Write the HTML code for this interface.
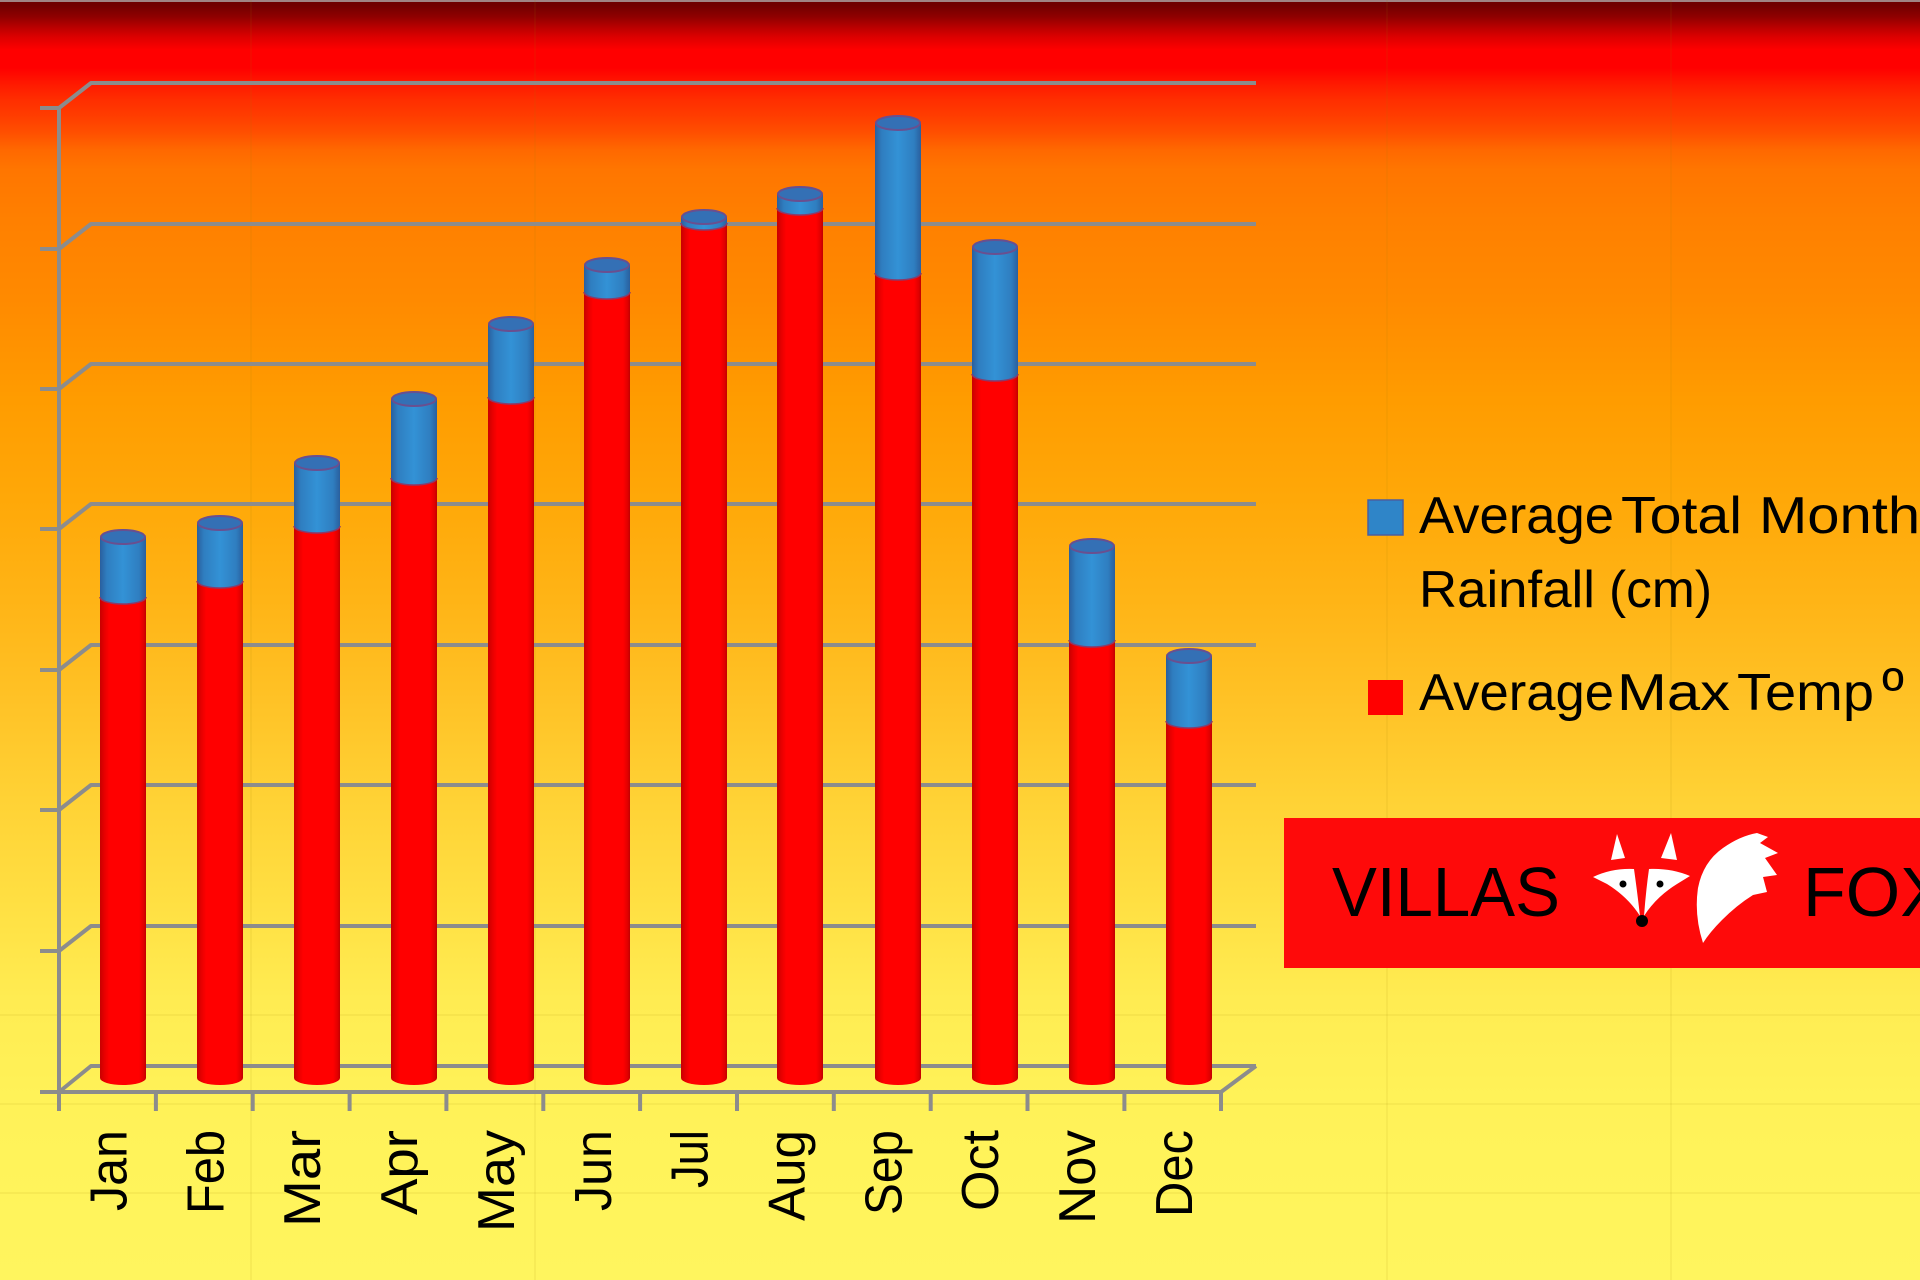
<!DOCTYPE html>
<html>
<head>
<meta charset="utf-8">
<style>
  html, body { margin: 0; padding: 0; width: 1920px; height: 1280px; overflow: hidden; }
  svg { display: block; }
  text { font-family: "Liberation Sans", Arial, sans-serif; }
</style>
</head>
<body>
<svg width="1920" height="1280" viewBox="0 0 1920 1280" xmlns="http://www.w3.org/2000/svg">
  <defs>
    <linearGradient id="bg" x1="0" y1="0" x2="0" y2="1">
      <stop offset="0" stop-color="#6e0000"/>
      <stop offset="0.004" stop-color="#700000"/>
      <stop offset="0.0133" stop-color="#900000"/>
      <stop offset="0.021" stop-color="#b80000"/>
      <stop offset="0.029" stop-color="#dd0000"/>
      <stop offset="0.039" stop-color="#ff0000"/>
      <stop offset="0.053" stop-color="#ff0000"/>
      <stop offset="0.066" stop-color="#ff1a00"/>
      <stop offset="0.078" stop-color="#ff2e00"/>
      <stop offset="0.09" stop-color="#ff3c00"/>
      <stop offset="0.104" stop-color="#ff5000"/>
      <stop offset="0.117" stop-color="#ff6800"/>
      <stop offset="0.133" stop-color="#ff7600"/>
      <stop offset="0.172" stop-color="#ff8000"/>
      <stop offset="0.234" stop-color="#ff8a00"/>
      <stop offset="0.3125" stop-color="#ff9c00"/>
      <stop offset="0.39" stop-color="#ffa808"/>
      <stop offset="0.469" stop-color="#ffb416"/>
      <stop offset="0.547" stop-color="#ffc226"/>
      <stop offset="0.625" stop-color="#ffd235"/>
      <stop offset="0.703" stop-color="#ffdf42"/>
      <stop offset="0.781" stop-color="#ffec52"/>
      <stop offset="0.859" stop-color="#fff258"/>
      <stop offset="1" stop-color="#fff55e"/>
    </linearGradient>
    <linearGradient id="gr" x1="0" y1="0" x2="1" y2="0">
      <stop offset="0" stop-color="#c80000"/>
      <stop offset="0.1" stop-color="#e80000"/>
      <stop offset="0.2" stop-color="#ff0000"/>
      <stop offset="0.85" stop-color="#ff0000"/>
      <stop offset="0.95" stop-color="#e00000"/>
      <stop offset="1" stop-color="#c00000"/>
    </linearGradient>
    <linearGradient id="gb" x1="0" y1="0" x2="1" y2="0">
      <stop offset="0" stop-color="#2a5f9e"/>
      <stop offset="0.15" stop-color="#2f7ec0"/>
      <stop offset="0.5" stop-color="#3392d6"/>
      <stop offset="0.85" stop-color="#2f7ec0"/>
      <stop offset="1" stop-color="#2a5f9e"/>
    </linearGradient>
  </defs>

  <!-- background -->
  <rect x="0" y="0" width="1920" height="1280" fill="url(#bg)"/>
  <rect x="0" y="0" width="1920" height="2" fill="#a08585"/>

  <!-- faint cell grid -->
  <g stroke="#9a7a00" stroke-opacity="0.08" stroke-width="2">
    <line x1="251" y1="0" x2="251" y2="1280"/>
    <line x1="535" y1="0" x2="535" y2="1280"/>
    <line x1="1387" y1="0" x2="1387" y2="1280"/>
    <line x1="1671" y1="0" x2="1671" y2="1280"/>
    <line x1="0" y1="1015" x2="1920" y2="1015"/>
    <line x1="0" y1="1104" x2="1920" y2="1104"/>
    <line x1="0" y1="1193" x2="1920" y2="1193"/>
  </g>

  <!-- axes & gridlines -->
  <g stroke="#8c8c8c" stroke-width="4" fill="none" stroke-linejoin="round">
    <polyline points="40,108 59,108 91,83 1256,83"/>
    <polyline points="40,249 59,249 91,224 1256,224"/>
    <polyline points="40,389 59,389 91,364 1256,364"/>
    <polyline points="40,529 59,529 91,504 1256,504"/>
    <polyline points="40,670 59,670 91,645 1256,645"/>
    <polyline points="40,810 59,810 91,785 1256,785"/>
    <polyline points="40,951 59,951 91,926 1256,926"/>
    <polyline points="40,1092 59,1092 91,1066 1256,1066"/>
    <line x1="59" y1="106" x2="59" y2="1094"/>
    <polyline points="59,1092 1221,1092 1256,1066"/>
    <line x1="59" y1="1092" x2="59" y2="1111"/>
    <line x1="155.9" y1="1092" x2="155.9" y2="1111"/>
    <line x1="252.7" y1="1092" x2="252.7" y2="1111"/>
    <line x1="349.6" y1="1092" x2="349.6" y2="1111"/>
    <line x1="446.4" y1="1092" x2="446.4" y2="1111"/>
    <line x1="543.3" y1="1092" x2="543.3" y2="1111"/>
    <line x1="640.1" y1="1092" x2="640.1" y2="1111"/>
    <line x1="737" y1="1092" x2="737" y2="1111"/>
    <line x1="833.8" y1="1092" x2="833.8" y2="1111"/>
    <line x1="930.7" y1="1092" x2="930.7" y2="1111"/>
    <line x1="1027.5" y1="1092" x2="1027.5" y2="1111"/>
    <line x1="1124.4" y1="1092" x2="1124.4" y2="1111"/>
    <line x1="1221" y1="1092" x2="1221" y2="1111"/>
  </g>

  <!-- bars -->
  <g>
    <!-- Jan -->
    <rect x="100" y="597" width="46" height="481" fill="url(#gr)"/><ellipse cx="123" cy="1078" rx="23" ry="7" fill="url(#gr)"/>
    <rect x="100" y="537" width="46" height="60" fill="url(#gb)"/>
    <path d="M100,597 A23,7 0 0 0 146,597 Z" fill="url(#gb)"/>
    <path d="M100,597 A23,7 0 0 0 146,597" fill="none" stroke="#8a3a6a" stroke-width="1.5"/>
    <ellipse cx="123" cy="537" rx="22" ry="7" fill="#3470b5" stroke="#6a4f8f" stroke-width="2"/>
    <!-- Feb -->
    <rect x="197" y="581" width="46" height="497" fill="url(#gr)"/><ellipse cx="220" cy="1078" rx="23" ry="7" fill="url(#gr)"/>
    <rect x="197" y="523" width="46" height="58" fill="url(#gb)"/>
    <path d="M197,581 A23,7 0 0 0 243,581 Z" fill="url(#gb)"/>
    <path d="M197,581 A23,7 0 0 0 243,581" fill="none" stroke="#8a3a6a" stroke-width="1.5"/>
    <ellipse cx="220" cy="523" rx="22" ry="7" fill="#3470b5" stroke="#6a4f8f" stroke-width="2"/>
    <!-- Mar -->
    <rect x="294" y="526" width="46" height="552" fill="url(#gr)"/><ellipse cx="317" cy="1078" rx="23" ry="7" fill="url(#gr)"/>
    <rect x="294" y="463" width="46" height="63" fill="url(#gb)"/>
    <path d="M294,526 A23,7 0 0 0 340,526 Z" fill="url(#gb)"/>
    <path d="M294,526 A23,7 0 0 0 340,526" fill="none" stroke="#8a3a6a" stroke-width="1.5"/>
    <ellipse cx="317" cy="463" rx="22" ry="7" fill="#3470b5" stroke="#6a4f8f" stroke-width="2"/>
    <!-- Apr -->
    <rect x="391" y="478" width="46" height="600" fill="url(#gr)"/><ellipse cx="414" cy="1078" rx="23" ry="7" fill="url(#gr)"/>
    <rect x="391" y="399" width="46" height="79" fill="url(#gb)"/>
    <path d="M391,478 A23,7 0 0 0 437,478 Z" fill="url(#gb)"/>
    <path d="M391,478 A23,7 0 0 0 437,478" fill="none" stroke="#8a3a6a" stroke-width="1.5"/>
    <ellipse cx="414" cy="399" rx="22" ry="7" fill="#3470b5" stroke="#6a4f8f" stroke-width="2"/>
    <!-- May -->
    <rect x="488" y="397" width="46" height="681" fill="url(#gr)"/><ellipse cx="511" cy="1078" rx="23" ry="7" fill="url(#gr)"/>
    <rect x="488" y="324" width="46" height="73" fill="url(#gb)"/>
    <path d="M488,397 A23,7 0 0 0 534,397 Z" fill="url(#gb)"/>
    <path d="M488,397 A23,7 0 0 0 534,397" fill="none" stroke="#8a3a6a" stroke-width="1.5"/>
    <ellipse cx="511" cy="324" rx="22" ry="7" fill="#3470b5" stroke="#6a4f8f" stroke-width="2"/>
    <!-- Jun -->
    <rect x="584" y="292" width="46" height="786" fill="url(#gr)"/><ellipse cx="607" cy="1078" rx="23" ry="7" fill="url(#gr)"/>
    <rect x="584" y="265" width="46" height="27" fill="url(#gb)"/>
    <path d="M584,292 A23,7 0 0 0 630,292 Z" fill="url(#gb)"/>
    <path d="M584,292 A23,7 0 0 0 630,292" fill="none" stroke="#8a3a6a" stroke-width="1.5"/>
    <ellipse cx="607" cy="265" rx="22" ry="7" fill="#3470b5" stroke="#6a4f8f" stroke-width="2"/>
    <!-- Jul -->
    <rect x="681" y="223" width="46" height="855" fill="url(#gr)"/><ellipse cx="704" cy="1078" rx="23" ry="7" fill="url(#gr)"/>
    <rect x="681" y="217" width="46" height="6" fill="url(#gb)"/>
    <path d="M681,223 A23,7 0 0 0 727,223 Z" fill="url(#gb)"/>
    <path d="M681,223 A23,7 0 0 0 727,223" fill="none" stroke="#8a3a6a" stroke-width="1.5"/>
    <ellipse cx="704" cy="217" rx="22" ry="7" fill="#3470b5" stroke="#6a4f8f" stroke-width="2"/>
    <!-- Aug -->
    <rect x="777" y="208" width="46" height="870" fill="url(#gr)"/><ellipse cx="800" cy="1078" rx="23" ry="7" fill="url(#gr)"/>
    <rect x="777" y="194" width="46" height="14" fill="url(#gb)"/>
    <path d="M777,208 A23,7 0 0 0 823,208 Z" fill="url(#gb)"/>
    <path d="M777,208 A23,7 0 0 0 823,208" fill="none" stroke="#8a3a6a" stroke-width="1.5"/>
    <ellipse cx="800" cy="194" rx="22" ry="7" fill="#3470b5" stroke="#6a4f8f" stroke-width="2"/>
    <!-- Sep -->
    <rect x="875" y="273" width="46" height="805" fill="url(#gr)"/><ellipse cx="898" cy="1078" rx="23" ry="7" fill="url(#gr)"/>
    <rect x="875" y="123" width="46" height="150" fill="url(#gb)"/>
    <path d="M875,273 A23,7 0 0 0 921,273 Z" fill="url(#gb)"/>
    <path d="M875,273 A23,7 0 0 0 921,273" fill="none" stroke="#8a3a6a" stroke-width="1.5"/>
    <ellipse cx="898" cy="123" rx="22" ry="7" fill="#3470b5" stroke="#6a4f8f" stroke-width="2"/>
    <!-- Oct -->
    <rect x="972" y="374" width="46" height="704" fill="url(#gr)"/><ellipse cx="995" cy="1078" rx="23" ry="7" fill="url(#gr)"/>
    <rect x="972" y="247" width="46" height="127" fill="url(#gb)"/>
    <path d="M972,374 A23,7 0 0 0 1018,374 Z" fill="url(#gb)"/>
    <path d="M972,374 A23,7 0 0 0 1018,374" fill="none" stroke="#8a3a6a" stroke-width="1.5"/>
    <ellipse cx="995" cy="247" rx="22" ry="7" fill="#3470b5" stroke="#6a4f8f" stroke-width="2"/>
    <!-- Nov -->
    <rect x="1069" y="640" width="46" height="438" fill="url(#gr)"/><ellipse cx="1092" cy="1078" rx="23" ry="7" fill="url(#gr)"/>
    <rect x="1069" y="546" width="46" height="94" fill="url(#gb)"/>
    <path d="M1069,640 A23,7 0 0 0 1115,640 Z" fill="url(#gb)"/>
    <path d="M1069,640 A23,7 0 0 0 1115,640" fill="none" stroke="#8a3a6a" stroke-width="1.5"/>
    <ellipse cx="1092" cy="546" rx="22" ry="7" fill="#3470b5" stroke="#6a4f8f" stroke-width="2"/>
    <!-- Dec -->
    <rect x="1166" y="721" width="46" height="357" fill="url(#gr)"/><ellipse cx="1189" cy="1078" rx="23" ry="7" fill="url(#gr)"/>
    <rect x="1166" y="656" width="46" height="65" fill="url(#gb)"/>
    <path d="M1166,721 A23,7 0 0 0 1212,721 Z" fill="url(#gb)"/>
    <path d="M1166,721 A23,7 0 0 0 1212,721" fill="none" stroke="#8a3a6a" stroke-width="1.5"/>
    <ellipse cx="1189" cy="656" rx="22" ry="7" fill="#3470b5" stroke="#6a4f8f" stroke-width="2"/>
  </g>

  <!-- month labels -->
  <g font-size="52" fill="#000" text-anchor="end">
    <text transform="translate(126.5,1130) rotate(-90)" textLength="81" lengthAdjust="spacingAndGlyphs">Jan</text>
    <text transform="translate(223.4,1130) rotate(-90)" textLength="84" lengthAdjust="spacingAndGlyphs">Feb</text>
    <text transform="translate(320.2,1130) rotate(-90)" textLength="97" lengthAdjust="spacingAndGlyphs">Mar</text>
    <text transform="translate(417.1,1130) rotate(-90)" textLength="85" lengthAdjust="spacingAndGlyphs">Apr</text>
    <text transform="translate(513.9,1130) rotate(-90)" textLength="102" lengthAdjust="spacingAndGlyphs">May</text>
    <text transform="translate(610.8,1130) rotate(-90)" textLength="81" lengthAdjust="spacingAndGlyphs">Jun</text>
    <text transform="translate(707.6,1130) rotate(-90)" textLength="58" lengthAdjust="spacingAndGlyphs">Jul</text>
    <text transform="translate(804.5,1130) rotate(-90)" textLength="91" lengthAdjust="spacingAndGlyphs">Aug</text>
    <text transform="translate(901.3,1130) rotate(-90)" textLength="85" lengthAdjust="spacingAndGlyphs">Sep</text>
    <text transform="translate(998.2,1130) rotate(-90)" textLength="81" lengthAdjust="spacingAndGlyphs">Oct</text>
    <text transform="translate(1095,1130) rotate(-90)" textLength="94" lengthAdjust="spacingAndGlyphs">Nov</text>
    <text transform="translate(1191.9,1130) rotate(-90)" textLength="87" lengthAdjust="spacingAndGlyphs">Dec</text>
  </g>

  <!-- legend -->
  <rect x="1368" y="500" width="35" height="35" fill="#2f85c8" stroke="#4a5fa0" stroke-width="1.5"/>
  <rect x="1368" y="680" width="35" height="35" fill="#ff0000"/>
  <g font-size="52" fill="#000">
    <text x="1419" y="533" textLength="195" lengthAdjust="spacingAndGlyphs">Average</text>
    <text x="1621" y="533" textLength="121" lengthAdjust="spacingAndGlyphs">Total</text>
    <text x="1759" y="533" textLength="203" lengthAdjust="spacingAndGlyphs">Monthly</text>
    <text x="1419" y="607" textLength="176" lengthAdjust="spacingAndGlyphs">Rainfall</text>
    <text x="1609" y="607" textLength="103" lengthAdjust="spacingAndGlyphs">(cm)</text>
    <text x="1419" y="710" textLength="195" lengthAdjust="spacingAndGlyphs">Average</text>
    <text x="1617" y="710" textLength="113" lengthAdjust="spacingAndGlyphs">Max</text>
    <text x="1737" y="710" textLength="137" lengthAdjust="spacingAndGlyphs">Temp</text>
    <text x="1882" y="710" font-size="60">º</text>
    <text x="1922" y="710">C</text>
  </g>

  <!-- logo banner -->
  <rect x="1284" y="818" width="636" height="150" fill="#fe0a0a"/>
  <text x="1332" y="916" font-size="70" fill="#000" textLength="228" lengthAdjust="spacingAndGlyphs">VILLAS</text>
  <text x="1803" y="916" font-size="70" fill="#000">FOXES</text>
  <g fill="#ffffff">
    <polygon points="1611,860 1617,834 1625,858"/>
    <polygon points="1661,858 1671,833 1677,860"/>
    <path d="M1593,877 Q1612,868 1634,869 Q1637,890 1640,916 Q1628,897 1607,884 Z"/>
    <path d="M1690,876 Q1671,868 1649,869 Q1646,890 1644,916 Q1656,897 1677,884 Z"/>
    <path d="M1703,943 Q1694,915 1698,888 Q1703,862 1723,848 Q1740,836 1757,833 L1768,837 L1760,843 L1778,853 L1765,858 L1777,875 L1763,877 L1767,892 L1753,895 Q1737,905 1722,920 Q1710,932 1703,943 Z"/>
  </g>
  <g fill="#000">
    <circle cx="1623" cy="884" r="3.5"/>
    <circle cx="1660" cy="884" r="3.5"/>
    <circle cx="1642" cy="921" r="6"/>
  </g>
</svg>
</body>
</html>
